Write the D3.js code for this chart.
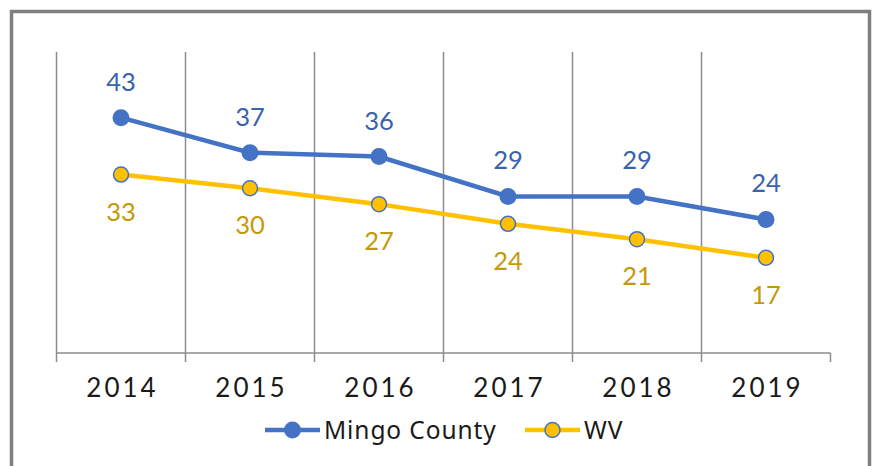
<!DOCTYPE html>
<html><head><meta charset="utf-8">
<script src="https://cdn.jsdelivr.net/npm/d3@7"></script>
<style>html,body{margin:0;padding:0;background:#fff;} svg{display:block;}</style>
</head><body>
<svg id="c" width="877" height="466"></svg>
<script>
const categories = ["2014","2015","2016","2017","2018","2019"];
const mingo = [43.0, 36.6, 35.9, 28.6, 28.6, 24.4];
const wv = [32.6, 30.1, 27.2, 23.6, 20.8, 17.4];
const seriesNames = ["Mingo County","WV"];

const svg = d3.select("#c");
const FONT = "Lato, 'Noto Sans', sans-serif";
const LFONT = "'Noto Sans', sans-serif";
const blue = "#4472C4", gold = "#FFC000";

// outer frame
svg.append("rect").attr("x",11.5).attr("y",11.5).attr("width",858).attr("height",470)
  .attr("fill","#fff").attr("stroke","#7f7f7f").attr("stroke-width",3.5);

const plotTop = 52, plotBottom = 353;
const x = d3.scaleBand().domain(categories).range([56.5, 830.5]).padding(0);
const y = d3.scaleLinear().domain([0,55]).range([plotBottom, plotTop]);
const cx = c => x(c) + x.bandwidth()/2;

// vertical gridlines at category boundaries
const bounds = categories.map(c => x(c)).concat([x.range()[1]]);
svg.append("g").selectAll("line").data(bounds.slice(0,-1)).join("line")
  .attr("x1",d=>d).attr("x2",d=>d).attr("y1",plotTop).attr("y2",plotBottom)
  .attr("stroke","#8c8c8c").attr("stroke-width",1.5);

// x axis
const axisG = svg.append("g").attr("transform",`translate(0,${plotBottom})`);
axisG.append("line").attr("x1",x.range()[0]).attr("x2",x.range()[1]).attr("y1",0).attr("y2",0)
  .attr("stroke","#8c8c8c").attr("stroke-width",1.5);
axisG.selectAll("line.tick").data(bounds).join("line").attr("class","tick")
  .attr("x1",d=>d).attr("x2",d=>d).attr("y1",0).attr("y2",9)
  .attr("stroke","#8c8c8c").attr("stroke-width",1.5);
axisG.selectAll("text").data(categories).join("text")
  .attr("x",d=>cx(d)+1.5).attr("y",44).attr("text-anchor","middle")
  .attr("font-family",FONT).attr("font-size",26).attr("letter-spacing","3px")
  .attr("fill","#1a1a1a").text(d=>d);

const line = d3.line().x((d,i)=>cx(categories[i])).y(d=>y(d));

svg.append("path").datum(wv).attr("d",line).attr("fill","none").attr("stroke",gold).attr("stroke-width",4.5);
svg.append("path").datum(mingo).attr("d",line).attr("fill","none").attr("stroke",blue).attr("stroke-width",4.5);

svg.append("g").selectAll("circle").data(wv).join("circle")
  .attr("cx",(d,i)=>cx(categories[i])).attr("cy",d=>y(d)).attr("r",7.5)
  .attr("fill",gold).attr("stroke",blue).attr("stroke-width",1.5);
svg.append("g").selectAll("circle").data(mingo).join("circle")
  .attr("cx",(d,i)=>cx(categories[i])).attr("cy",d=>y(d)).attr("r",8.5)
  .attr("fill",blue);

const fmt = d3.format(".0f");
svg.append("g").selectAll("text").data(mingo).join("text")
  .attr("x",(d,i)=>cx(categories[i])).attr("y",d=>y(d)-27)
  .attr("text-anchor","middle").attr("font-family",FONT).attr("font-size",25.5)
  .attr("fill","#3a63ad").text(d=>fmt(d));
svg.append("g").selectAll("text").data(wv).join("text")
  .attr("x",(d,i)=>cx(categories[i])).attr("y",d=>y(d)+46)
  .attr("text-anchor","middle").attr("font-family",FONT).attr("font-size",25.5)
  .attr("fill","#c49a0a").text(d=>fmt(d));

// legend
const legend = [
  {name: seriesNames[0], color: blue, fill: blue, stroke: "none", r: 8.5, x0: 265},
  {name: seriesNames[1], color: gold, fill: gold, stroke: blue, r: 7.5, x0: 525}
];
const lg = svg.append("g");
legend.forEach(l => {
  lg.append("line").attr("x1",l.x0).attr("x2",l.x0+55).attr("y1",430).attr("y2",430)
    .attr("stroke",l.color).attr("stroke-width",4.5);
  lg.append("circle").attr("cx",l.x0+27.5).attr("cy",430).attr("r",l.r)
    .attr("fill",l.fill).attr("stroke",l.stroke).attr("stroke-width",1.5);
  lg.append("text").attr("x",l.x0+59).attr("y",439).attr("font-family",LFONT).attr("font-size",24.5)
    .attr("letter-spacing","0.9px").attr("fill","#1a1a1a").text(l.name);
});
</script>
</body></html>
